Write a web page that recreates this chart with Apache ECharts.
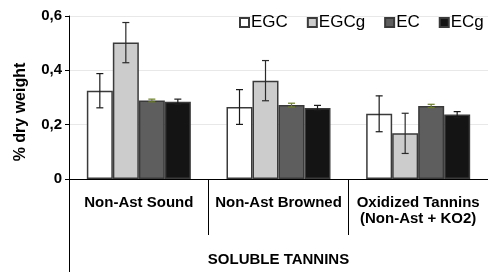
<!DOCTYPE html>
<html><head><meta charset="utf-8">
<script src="https://cdn.jsdelivr.net/npm/echarts@6/dist/echarts.min.js"></script>
<style>html,body{margin:0;padding:0;background:#fff}#c{width:488px;height:273px}</style>
</head><body><div id="c"></div>
<script>
const categories = ['Non-Ast Sound', 'Non-Ast Browned', 'Oxidized Tannins\n(Non-Ast + KO2)'];
const seriesNames = ['EGC', 'EGCg', 'EC', 'ECg'];
const EGC = [0.325, 0.265, 0.240];
const EGCg = [0.502, 0.362, 0.168];
const EC = [0.289, 0.272, 0.269];
const ECg = [0.284, 0.261, 0.237];
const EGC_err = [0.063, 0.064, 0.066];
const EGCg_err = [0.074, 0.074, 0.074];
const EC_err = [0.005, 0.007, 0.006];
const ECg_err = [0.010, 0.010, 0.011];
const groupLabel = ['SOLUBLE TANNINS'];
const yTicks = [0, 0.2, 0.4, 0.6];

const values = [EGC, EGCg, EC, ECg];
const errs = [EGC_err, EGCg_err, EC_err, ECg_err];
const fills = ['#ffffff', '#cccccc', '#5e5e5e', '#141414'];
const errColors = ['#1a1a1a', '#2a2a2a', '#6b7d2a', '#1a1a1a'];
const BW = 26;
const font = 'Liberation Sans, Arial, sans-serif';

const chart = echarts.init(document.getElementById('c'));
const series = [];
values.forEach((v, i) => {
  series.push({
    name: seriesNames[i], type: 'bar', data: v, barWidth: BW, barGap: '0%',
    itemStyle: { color: fills[i], borderColor: '#3a3a3a', borderWidth: 1.5 },
    emphasis: { disabled: true }
  });
});
values.forEach((v, i) => {
  series.push({
    type: 'custom', z: 5, silent: true,
    data: v.map((val, j) => [j, val - errs[i][j], val + errs[i][j]]),
    renderItem: function (params, api) {
      const lo = api.coord([api.value(0), api.value(1)]);
      const hi = api.coord([api.value(0), api.value(2)]);
      const x = lo[0] + (i - 1.5) * BW;
      const cap = 3.5;
      const st = { stroke: errColors[i], lineWidth: 1.2 };
      return { type: 'group', children: [
        { type: 'line', shape: { x1: x, y1: lo[1], x2: x, y2: hi[1] }, style: st },
        { type: 'line', shape: { x1: x - cap, y1: lo[1], x2: x + cap, y2: lo[1] }, style: st },
        { type: 'line', shape: { x1: x - cap, y1: hi[1], x2: x + cap, y2: hi[1] }, style: st }
      ]};
    }
  });
});

chart.setOption({
  animation: false,
  backgroundColor: '#fff',
  grid: { left: 69, top: 16, bottom: 94, right: -9, containLabel: false },
  legend: {
    data: seriesNames, left: 234, top: 9, width: 320, icon: 'rect', itemWidth: 9, itemHeight: 9,
    itemGap: 19, textStyle: { fontFamily: font, fontSize: 17, color: '#000', padding: [0, 0, 0, -3] }
  },
  xAxis: [{
    type: 'category', data: categories, boundaryGap: true,
    axisLine: { lineStyle: { color: '#000', width: 1 } },
    axisTick: { show: true, length: 56, lineStyle: { color: '#000' } },
    axisLabel: { fontFamily: font, fontWeight: 'bold', fontSize: 15, color: '#000', margin: 16, lineHeight: 16, interval: 0 }
  }, {
    type: 'category', data: groupLabel, position: 'bottom', boundaryGap: true,
    axisLine: { show: false },
    axisTick: { show: true, length: 93, lineStyle: { color: '#000' } },
    axisLabel: { fontFamily: font, fontWeight: 'bold', fontSize: 15, color: '#000', margin: 73 }
  }],
  yAxis: {
    type: 'value', min: 0, max: 0.6, interval: 0.2,
    axisLine: { show: true, lineStyle: { color: '#000' } },
    axisTick: { show: true, length: 4, lineStyle: { color: '#000' } },
    splitLine: { lineStyle: { color: '#e8e8e8' } },
    axisLabel: {
      fontFamily: font, fontWeight: 'bold', fontSize: 15, color: '#000', margin: 7,
      formatter: v => (yTicks.indexOf(Math.round(v * 10) / 10) >= 0 ? (v === 0 ? '0' : v.toFixed(1).replace('.', ',')) : '')
    }
  },
  graphic: [{
    type: 'text', rotation: Math.PI / 2, x: 21, y: 112,
    style: { text: '% dry weight', font: 'bold 16px ' + font, fill: '#000', textAlign: 'center', textVerticalAlign: 'middle' }
  }],
  series: series
});
</script></body></html>
